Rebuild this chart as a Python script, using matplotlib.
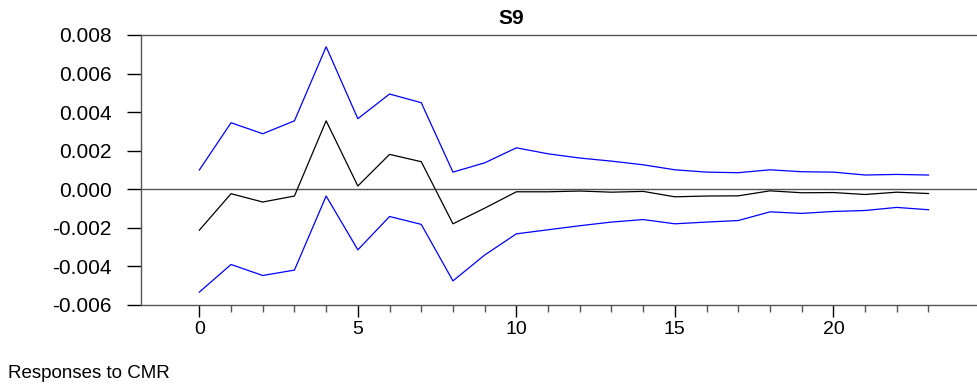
import matplotlib
matplotlib.use("Agg")
import matplotlib.pyplot as plt
from matplotlib.ticker import FixedLocator

periods = list(range(24))
upper = [0.00100, 0.00345, 0.00288, 0.00355, 0.00739, 0.00366, 0.00494, 0.00449,
         0.00089, 0.00137, 0.00215, 0.00184, 0.00162, 0.00146, 0.00127, 0.00101,
         0.00089, 0.00086, 0.00101, 0.00091, 0.00089, 0.00074, 0.00077, 0.00074]
response = [-0.00212, -0.00023, -0.00066, -0.00035, 0.00355, 0.00017, 0.00181, 0.00143,
            -0.00179, -0.00098, -0.00013, -0.00013, -0.00009, -0.00015, -0.00011, -0.00039,
            -0.00035, -0.00034, -0.00008, -0.00018, -0.00017, -0.00027, -0.00015, -0.00022]
lower = [-0.00533, -0.00390, -0.00447, -0.00419, -0.00035, -0.00314, -0.00141, -0.00182,
         -0.00475, -0.00341, -0.00231, -0.00210, -0.00189, -0.00170, -0.00157, -0.00179,
         -0.00170, -0.00162, -0.00117, -0.00125, -0.00115, -0.00110, -0.00094, -0.00106]
yticks = [-0.006, -0.004, -0.002, 0.000, 0.002, 0.004, 0.006, 0.008]
xticks = [0, 5, 10, 15, 20]

plt.rcParams['font.family'] = ['Liberation Sans', 'DejaVu Sans']

W, H = 977, 386
fig = plt.figure(figsize=(W/100, H/100), dpi=100)
ax = fig.add_axes([141/W, 1-305/H, (977-141)/W, (305-35)/H])

spine_c = '#555555'
ax.axhline(0, color=spine_c, lw=1.0, zorder=1)
ax.plot(periods, upper, color='#0000ff', lw=0.9, zorder=3)
ax.plot(periods, lower, color='#0000ff', lw=0.9, zorder=3)
ax.plot(periods, response, color='black', lw=0.9, zorder=3)

ax.set_xlim(-1.84, 24.53)
ax.set_ylim(-0.006, 0.008)
ax.set_yticks(yticks)
ax.set_yticklabels([f"{v:.3f}" for v in yticks])
ax.xaxis.set_major_locator(FixedLocator(xticks))
ax.xaxis.set_minor_locator(FixedLocator([p for p in periods if p not in xticks]))
ax.set_xticklabels([str(v) for v in xticks])

ax.spines['right'].set_visible(False)
for s in ['left', 'top', 'bottom']:
    ax.spines[s].set_color(spine_c)
    ax.spines[s].set_linewidth(1.0)

ax.tick_params(axis='y', direction='out', length=10, width=1.0, color='black',
               pad=11, labelsize=15)
ax.tick_params(axis='x', which='major', direction='out', length=8.6, width=1.0,
               color='black', pad=3, labelsize=14)
ax.tick_params(axis='x', which='minor', direction='out', length=4.8, width=1.0,
               color=spine_c)

fig.text(511/W, 1-19/H, 'S9', ha='center', va='center', fontsize=15, fontweight='bold')
fig.text(8/W, 1-373.5/H, 'Responses to CMR', ha='left', va='center', fontsize=13.5)

fig.savefig('out.png', dpi=100)
